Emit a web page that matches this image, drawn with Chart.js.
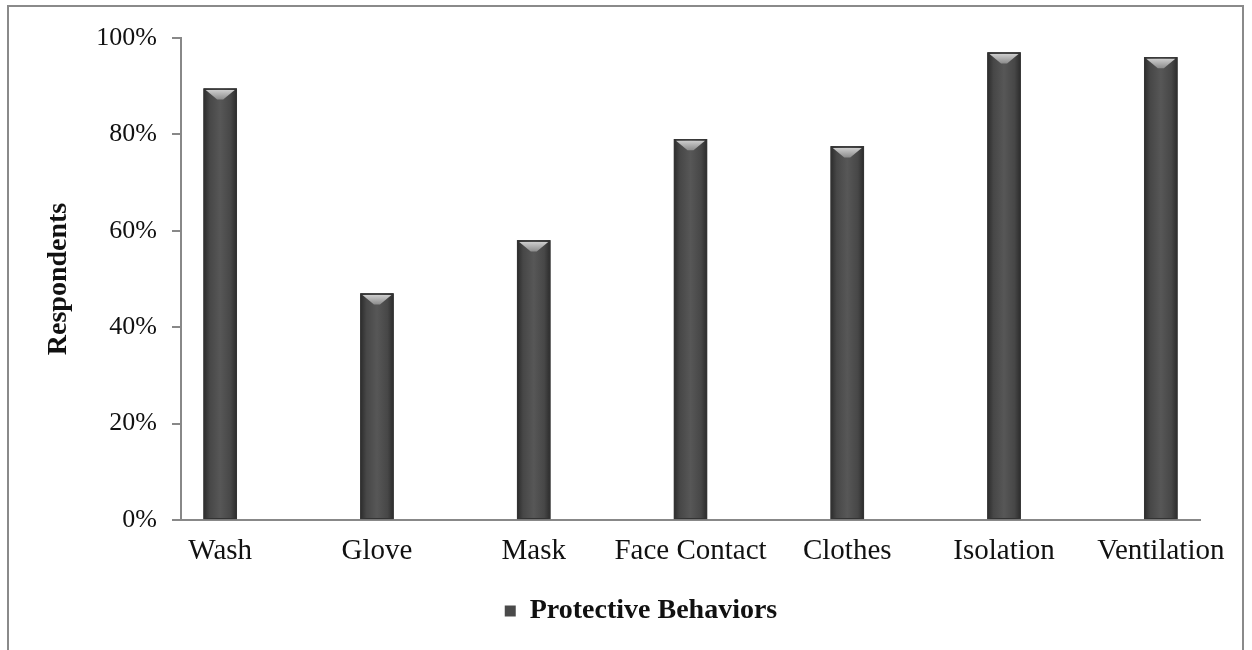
<!DOCTYPE html>
<html>
<head>
<meta charset="utf-8">
<script src="https://cdn.jsdelivr.net/npm/chart.js@4/dist/chart.umd.min.js"></script>
<style>
  html, body { margin: 0; padding: 0; background: #fff; }
  #wrap { position: relative; width: 1252px; height: 650px; overflow: hidden; }
  #frame { position: absolute; left: 7px; top: 5px; width: 1237px; height: 700px; border: 2px solid #8a8a8a; box-sizing: border-box; }
  #c { position: absolute; left: 0; top: 0; }
</style>
</head>
<body>
<div id="wrap">
  <div id="frame"></div>
  <canvas id="c" width="1252" height="650"></canvas>
</div>
<script>
const categories = ['Wash', 'Glove', 'Mask', 'Face Contact', 'Clothes', 'Isolation', 'Ventilation'];
const respondentShares = [89.5, 47, 58, 79, 77.5, 97, 96];
const yTickValues = [0, 20, 40, 60, 80, 100];
const seriesName = 'Protective Behaviors';
const yAxisTitle = 'Respondents';

const FONT = "'Liberation Serif', 'Times New Roman', serif";

const barStyle = {
  id: 'barStyle',
  afterDatasetsDraw(chart) {
    const ctx = chart.ctx;
    chart.getDatasetMeta(0).data.forEach(bar => {
      const p = bar.getProps(['x', 'y', 'width', 'base'], true);
      const l = p.x - p.width / 2, r = p.x + p.width / 2;
      const g = ctx.createLinearGradient(l, 0, r, 0);
      g.addColorStop(0, '#2c2c2c');
      g.addColorStop(0.18, '#474747');
      g.addColorStop(0.5, '#575757');
      g.addColorStop(0.82, '#474747');
      g.addColorStop(1, '#2c2c2c');
      ctx.save();
      ctx.fillStyle = g;
      ctx.fillRect(l, p.y, p.width, p.base - p.y);
      const h = 11;
      const tg = ctx.createLinearGradient(0, p.y, 0, p.y + h);
      tg.addColorStop(0, '#d8d8d8');
      tg.addColorStop(1, '#8c8c8c');
      ctx.beginPath();
      ctx.moveTo(l + 2, p.y + 1.5);
      ctx.lineTo(r - 2, p.y + 1.5);
      ctx.lineTo(p.x + 3, p.y + h);
      ctx.lineTo(p.x - 3, p.y + h);
      ctx.closePath();
      ctx.fillStyle = tg;
      ctx.fill();
      ctx.strokeStyle = '#333';
      ctx.lineWidth = 1;
      ctx.strokeRect(l + 0.5, p.y + 0.5, p.width - 1, p.base - p.y - 1);
      ctx.restore();
    });
  }
};

new Chart(document.getElementById('c'), {
  type: 'bar',
  data: {
    datasets: [{
      label: seriesName,
      data: respondentShares.map((v, i) => ({ x: i, y: v })),
      backgroundColor: '#4a4a4a',
      borderWidth: 0,
      barThickness: 33
    }]
  },
  options: {
    responsive: false,
    animation: false,
    layout: { padding: { left: 82, top: 38, right: 52, bottom: 15 } },
    plugins: {
      tooltip: { enabled: false },
      legend: {
        position: 'bottom',
        labels: {
          color: '#111',
          boxWidth: 11,
          boxHeight: 11,
          padding: 15,
          font: { family: FONT, size: 28, weight: 'bold' }
        }
      }
    },
    scales: {
      x: {
        type: 'linear',
        offset: false,
        min: -0.25,
        max: 6.25,
        afterBuildTicks: axis => { axis.ticks = categories.map((_, i) => ({ value: i })); },
        afterFit: s => { s.height = 62; },
        grid: { display: false, drawTicks: false },
        border: { display: true, color: '#888', width: 2 },
        ticks: {
          autoSkip: false,
          maxRotation: 0,
          padding: 14,
          color: '#111',
          font: { family: FONT, size: 29 },
          callback: v => categories[v] ?? ''
        }
      },
      y: {
        min: 0,
        max: 100,
        afterBuildTicks: axis => { axis.ticks = yTickValues.map(v => ({ value: v })); },
        afterFit: s => { s.width = 99; },
        grid: { drawOnChartArea: false, drawTicks: true, tickLength: 9, color: '#888', lineWidth: 2 },
        border: { display: true, color: '#888', width: 2 },
        ticks: {
          padding: 15,
          color: '#111',
          font: { family: FONT, size: 26 },
          callback: v => v + '%'
        },
        title: {
          display: true,
          text: yAxisTitle,
          color: '#111',
          padding: { top: -40, bottom: 0 },
          font: { family: FONT, size: 28, weight: 'bold' }
        }
      }
    }
  },
  plugins: [barStyle]
});
</script>
</body>
</html>
